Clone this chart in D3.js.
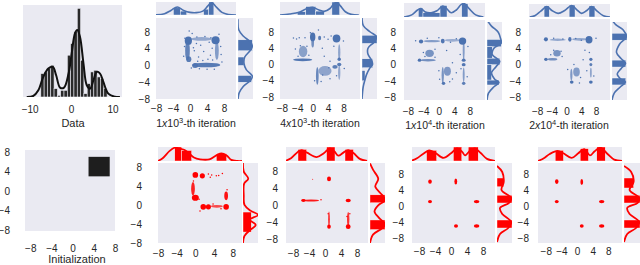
<!DOCTYPE html>
<html>
<head>
<meta charset="utf-8">
<script src="https://cdn.jsdelivr.net/npm/d3@7"></script>
<style>
  body { margin: 0; background: #fff; }
  svg { display: block; font-family: 'Liberation Sans', Arial, sans-serif; }
</style>
</head>
<body>
<svg id="chart" width="640" height="265"></svg>
<script>
const BLUE = '#4c72b0', RED = '#ff0000', BG = '#eaeaf2', INK = '#262626';

// ---- 1-D target data: histogram + kde ----
const histEdges = [-7.3,-6.5,-5.7,-4.9,-4.1,-3.3,-2.5,-1.7,-0.9,-0.1,0.7,1.5,2.3,3.1,3.9,4.7,5.5,6.3,7.1,7.9,8.7];
const histCounts = [14,15,17,19,5,1,4,4,25,32,39,53,22,2,8,15,16,12,11,5];
const histKde = [[-10.7,0],[-9.1,0.6],[-7.9,4],[-6.7,12],[-5.5,17],[-4.4,18],[-3.6,13],[-2.65,5.6],[-1.7,5.6],
  [-0.6,14],[0.15,26],[0.95,38],[1.5,40],[2.15,36],[3,20],[3.8,7],[4.6,5],[5.4,10],[6.2,15],[7,14],[7.8,9],
  [9,2],[10.6,0.2],[11.8,0]];
const histTicks = [-10, 0, 10];
const scatterTicks = [-8, -4, 0, 4, 8];

// iteration labels: mantissa x 10^exponent
const iterMantissa = ['1', '4', '1', '2'];
const iterExponent = ['3', '3', '4', '4'];

// start points fill a box [x0, x1, y0, y1]
const initBox = [3, 7, 3, 7];

// point clouds: [cx, cy, spreadX, spreadY, density]
const blue1Clusters = [[-0.4,5.9,0.85,1.0,1],[-0.6,3.5,0.55,2.4,0.8],[-0.3,1.5,0.6,0.7,0.85],[6.0,6.0,0.95,0.95,1],
  [6.3,3.5,0.45,2.2,0.5],[3.8,0.1,3.3,0.55,0.9],[1.2,0.0,0.7,0.6,0.9],[2.7,6.3,2.5,0.45,0.35]];
const blue1Strays = [[1.5,5.2],[2.5,4.8],[3.5,6.9],[4.5,5.5],[1,3.5],[2,2],[3.2,3.3],[4.8,2.4],[5.3,1.3],[0.5,7.6],
  [-1.3,4.5],[-1.5,2.2],[7.2,4.5],[7.5,0.8],[4,-0.9],[2.2,-0.8],[0.8,4.2],[5.2,4.1],[-0.2,8.2],[6.8,7.4],[3,1.2],[1.8,1],[4.2,1.5],
  [1.6,6.8],[4.9,6.6],[-1.2,6.5],[7.3,2.6],[5.7,-0.9],[0.3,-0.6]];

const blue2Clusters = [[0.0,6.8,0.7,1.1,1],[0.0,5.5,0.35,1.3,0.65],[1.8,6.5,0.4,0.55,0.85],[6.2,6.4,1.0,1.0,1],
  [-2.6,1.15,2.5,0.35,0.95],[-2.5,3.2,1.1,1.4,0.45],[6.9,1.3,0.45,0.45,0.9],[6.9,0.0,0.55,0.45,0.9],[6.9,3.0,0.3,2.0,0.4],
  [6.9,-2.0,0.3,1.8,0.35],[1.2,-2.8,0.35,2.2,0.75],[3.2,-1.6,1.7,1.2,0.4],[5.8,-0.6,0.7,0.45,0.85]];
const blue2Strays = [[-5,6.5],[-4.2,6.3],[-3.5,6.6],[-2,6.6],[3,6.8],[4,6.2],[4.8,7.0],[5.5,4.5],[2.5,4],[-1.5,4.5],
  [-3.8,2],[-1,2.3],[3,2],[4.5,0.8],[8,5.8],[0.5,-4],[2.2,-4.2],[4.5,-3.5],[6.2,-2.8],[8.2,-1],[-0.6,7.8],[1.5,8.5],
  [-4.5,3.8],[-3.2,4.6],[2.6,-2.6],[4.2,-0.8]];

const blue3Clusters = [[-4.6,5.7,0.55,0.5,1],[1.0,5.8,0.5,0.6,0.95],[6.1,5.8,0.95,0.9,1],[-1.8,5.8,2.2,0.3,0.5],
  [3.5,6.0,2.0,0.35,0.3],[-2.4,2.8,1.1,0.9,0.6],[-5.0,1.1,0.45,0.4,1],[-2.8,1.1,2.0,0.3,0.65],[6.4,3.5,0.25,2.5,0.5],
  [6.4,1.1,0.5,0.4,0.95],[6.4,0.0,0.5,0.4,0.95],[6.4,-2.5,0.25,1.8,0.5],[6.4,-4.6,0.45,0.4,0.85],[1.0,-2.6,0.3,2.0,0.6],
  [2.2,-1.6,0.9,1.1,0.55],[1.2,-4.6,0.45,0.4,0.95]];
const blue3Strays = [[-3,6.5],[0,6.6],[3,5.5],[4.5,6.4],[2,3.5],[-1,3.8],[-4,3],[-3.6,2],[-1,1.8],[3.5,0.5],
  [4.5,-2],[3.5,-3.5],[0,-1.5],[7.5,4.5],[5.5,2.5],[5.7,-1],[-6,5.9],[2.8,-4.2],[0.2,-3.6],[7.3,-3]];

const blue4Clusters = [[-5.6,6.2,0.55,0.5,1],[0.9,6.2,0.45,0.6,0.95],[6.1,6.1,0.95,0.9,1],[-2.4,6.1,2.2,0.3,0.35],
  [3.5,6.2,2.0,0.35,0.35],[-2.6,2.8,1.0,0.8,0.6],[-5.6,1.3,0.5,0.4,1],[-3.8,1.3,1.3,0.3,0.65],[6.6,1.3,0.45,0.4,0.95],
  [6.6,0.0,0.4,0.4,0.85],[6.6,-2,0.25,1.2,0.4],[1.4,-4.3,0.5,0.4,1],[6.6,-4.3,0.5,0.4,1],[1.3,-2.5,0.3,1.5,0.55],
  [2.7,-1.8,0.9,1.1,0.5]];
const blue4Strays = [[-3.5,6.5],[-1,6.3],[2.5,6.4],[4,6],[-1.5,3.3],[-3.5,3.5],[-1.2,2],[5,3.5],[6.2,3],[4.5,1.2],
  [3.8,-3.2],[2,0],[5.5,-1.5],[3.5,-4.5],[8,6.5],[-4.3,2.4],[0.3,-1.2],[7.4,-2.8]];

const red1Clusters = [[0.0,6.3,0.6,0.6,1],[1.5,6.1,0.55,0.55,1],[-0.5,3.4,0.4,1.4,0.8],[0.0,1.5,0.75,0.65,1],
  [6.6,1.9,0.4,0.9,0.9],[1.7,-0.4,0.6,0.6,1],[2.8,-0.4,0.55,0.55,1],[4.6,-0.3,1.3,0.3,0.55],[6.6,-0.4,0.6,0.6,1]];
const red1Strays = [[3.5,6.3],[4.5,6.1],[5,6.2],[2.8,6.5],[-0.4,5],[0.8,1.2],[5.5,-0.8],[3.8,0.2],[6.8,3.2],[1,-1.3],[3.2,5.8],[5.8,6.6]];

const red2Clusters = [[-3.1,6.2,0.15,0.15,0.5],[1.0,6.3,0.5,0.55,1],[-3.5,1.15,2.0,0.25,0.85],[-5.4,1.15,0.55,0.35,1],
  [5.8,1.15,0.65,0.4,1],[1.0,-3.3,0.2,1.8,0.85],[1.0,-5.1,0.45,0.5,1],[5.8,-3.3,0.3,1.7,0.7],[5.8,-5.1,0.6,0.55,1]];
const red2Strays = [[6.2,-2],[5.5,-2.7],[0.8,-2],[-1,1.3]];

const red3Clusters = [[-5.25,6.1,0.45,0.55,1],[1.2,6.1,0.35,0.75,1],[-5.25,1.1,0.5,0.4,1],[6.4,1.1,0.7,0.4,1],
  [1.25,-5,0.5,0.45,1],[6.4,-5,0.7,0.45,1]];
const red4Clusters = [[-5.2,6.1,0.45,0.6,1],[1.2,6.0,0.35,0.75,1],[-5.2,1.1,0.5,0.4,1],[6.3,1.1,0.7,0.4,1],
  [1.2,-5,0.5,0.45,1],[6.3,-5,0.7,0.45,1]];

// marginal kde curves [position, relative height] and bars [from, to, relative height]
const blue1Top = [[-8,0.02],[-6,0.1],[-4.5,0.35],[-3,0.62],[-1.5,0.35],[0,0.2],[1.5,0.18],[3,0.3],[4.2,0.7],[5.1,0.95],[6.2,0.6],[7.5,0.2],[9,0.04],[10.8,0]];
const blue1TopBars = [[-3.9,-2.3,0.55],[-2.3,-0.8,0.3],[3.2,4.4,0.45],[4.4,5.6,1.0]];
const blue1Right = [[11,0],[8.5,0.05],[7,0.35],[5.5,0.85],[4.5,0.95],[3.5,0.8],[2,0.45],[0.5,0.4],[-1,0.55],[-2.5,0.95],[-3.5,0.85],[-5,0.35],[-6.5,0.08],[-8,0]];
const blue1RightBars = [[3.5,6.1,0.95],[-4,-2.4,0.9],[0,2,0.4]];

const blue2Top = [[-8.5,0],[-6,0.08],[-3.5,0.22],[-1.5,0.5],[0,0.6],[1.5,0.4],[3,0.28],[4.5,0.5],[5.5,0.85],[6.3,0.98],[7.2,0.7],[8.5,0.25],[10,0.05],[12,0]];
const blue2TopBars = [[-4,-1.8,0.25],[-1.8,0.8,0.65],[0.8,3,0.3],[5.0,7.0,1.0]];
const blue2Right = [[11.5,0],[9.5,0.1],[8,0.55],[6.8,0.98],[5.5,0.8],[4,0.4],[2.5,0.4],[1,0.65],[0,0.7],[-1,0.5],[-2.5,0.3],[-4,0.18],[-5.5,0.08],[-8.5,0]];
const blue2RightBars = [[5.2,7.2,1.0],[-0.8,1.4,0.7],[-4,-1.5,0.2]];

const blue3Top = [[-9,0],[-7,0.15],[-5.5,0.5],[-4.6,0.6],[-3.5,0.35],[-2,0.3],[-0.5,0.45],[1,0.78],[2,0.6],[3.2,0.3],[4.5,0.5],[5.8,0.9],[6.6,0.95],[7.8,0.6],[9.5,0.15],[11.5,0]];
const blue3TopBars = [[-5.3,-4.1,0.62],[-4.1,0.3,0.3],[0.3,2.1,0.82],[5.9,7.5,0.95]];
const blue3Right = [[11,0],[9.5,0.3],[8,0.75],[6.5,0.9],[5.3,0.95],[4,0.45],[2.5,0.35],[0.8,0.85],[-0.5,0.6],[-2,0.3],[-3.5,0.5],[-4.4,0.8],[-5.5,0.45],[-7,0.1],[-8.7,0]];
const blue3RightBars = [[4.4,6.2,0.95],[1.6,4.4,0.35],[0,1.6,0.85],[-3.8,0,0.3],[-5,-3.8,0.8]];

const blue4Top = [[-10,0],[-8.5,0.12],[-7,0.45],[-5.4,0.8],[-4,0.5],[-2.3,0.28],[-0.5,0.5],[1.4,0.88],[2.8,0.55],[4.1,0.28],[5.5,0.5],[6.8,0.8],[8.3,0.45],[10,0.1],[12,0]];
const blue4TopBars = [[-6.1,-4.7,0.85],[0.7,2.3,0.92],[6.1,7.7,0.85]];
const blue4Right = [[11,0],[9.8,0.25],[8.5,0.75],[6.8,0.95],[5,0.5],[3,0.3],[1.5,0.6],[0.3,0.9],[-1,0.6],[-2.3,0.35],[-3.6,0.6],[-4.3,0.9],[-5.5,0.55],[-7,0.15],[-8.7,0]];
const blue4RightBars = [[6,7.7,1.0],[-0.6,1.1,0.92],[-5,-3.3,0.92]];

const red1Top = [[-8,0],[-7,0.2],[-5.5,0.72],[-4.4,0.95],[-3.5,0.9],[-2.4,0.8],[-1.5,0.6],[-0.3,0.25],[1,0.12],[3,0.12],[4.5,0.4],[5.6,0.55],[6.7,0.4],[7.7,0.08],[9,0],[10,0]];
const red1TopBars = [[-4.4,-2.9,1.0],[-2.9,-0.8,0.75],[4.5,6.7,0.52]];
const red1Right = [[8.8,0],[7,0.05],[5.5,0.35],[4.5,0.08],[2,0.05],[0,0.1],[-1.2,0.5],[-2.1,1.0],[-3.1,0.45],[-4.2,0.85],[-5.2,0.5],[-6.5,0.1],[-8,0]];
const red1RightBars = [[-5.7,-1.5,0.55]];

const red2Top = [[-10,0],[-8.5,0.2],[-6.8,0.65],[-5.8,0.78],[-4.5,0.6],[-2.1,0.28],[-0.3,0.55],[1.2,0.9],[2.3,0.7],[3.3,0.38],[4.6,0.6],[5.8,0.78],[7.2,0.55],[8.7,0.15],[10.5,0]];
const red2TopBars = [[-6.75,-4.6,0.83],[0.4,2.5,1.0],[5,7.1,0.83]];
const red2Right = [[10,0],[8.5,0.2],[6.3,0.55],[4.5,0.35],[2.5,0.8],[1.2,1.0],[0,0.55],[-1.5,0.3],[-3,0.6],[-4.5,1.0],[-5.5,0.8],[-7,0.2],[-9,0]];
const red2RightBars = [[0.6,2.5,1.0],[-5.8,-3.5,1.0]];

const red3Top = [[-10,0],[-8.5,0.2],[-7,0.5],[-5.5,0.75],[-4,0.6],[-1.9,0.22],[0,0.55],[1.5,0.9],[2.8,0.65],[3.5,0.4],[4.8,0.75],[6,0.9],[7.5,0.55],[9,0.15],[11,0]];
const red3TopBars = [[-6.1,-3.6,0.76],[0.6,2.7,1.0],[4.3,6.8,1.0]];
const red3Right = [[10,0],[8.5,0.35],[6,0.45],[4,0.3],[2,0.95],[0.8,0.8],[-0.5,0.2],[-2,0.35],[-4,0.95],[-5.5,0.75],[-7,0.2],[-9,0]];
const red3RightBars = [[4.8,7,0.45],[0.75,2.7,1.0],[-5.5,-3.5,1.0]];

const red4Top = [[-10,0],[-8.5,0.2],[-7,0.5],[-5,0.72],[-3.5,0.55],[-1.4,0.22],[0.3,0.55],[1.8,0.85],[3.3,0.4],[4.5,0.7],[6,0.95],[7.8,0.5],[9.5,0.1],[11.5,0]];
const red4TopBars = [[-5.6,-3.5,0.76],[0.8,2.9,0.88],[5.05,7.2,1.0]];
const red4Right = [[10,0],[8.5,0.45],[6,0.6],[4,0.35],[2,0.95],[0.8,0.85],[-0.5,0.2],[-2,0.35],[-4,0.95],[-5.5,0.75],[-7,0.2],[-9,0]];
const red4RightBars = [[4.5,7,0.6],[0.75,2.7,1.0],[-5.5,-3.5,1.0]];

// panel layout (pixel boxes are [x0, x1, y0, y1])
const panels = [
  { color: BLUE, box: [156,236,18,99], xd: [-8,10.8], yd: [-8,11.3], top: [156,236,2,15], right: [238,253,18,99],
    xLabY: 108, yLabEdge: 150, title: [0,196,123], clusters: blue1Clusters, strays: blue1Strays,
    mTop: blue1Top, mTopBars: blue1TopBars, mRight: blue1Right, mRightBars: blue1RightBars },
  { color: BLUE, box: [280,360,18,99], xd: [-8.5,12.3], yd: [-8.5,11.45], top: [280,360,2,15], right: [362,377,18,99],
    xLabY: 108, yLabEdge: 274, title: [1,320,123], clusters: blue2Clusters, strays: blue2Strays,
    mTop: blue2Top, mTopBars: blue2TopBars, mRight: blue2Right, mRightBars: blue2RightBars },
  { color: BLUE, box: [404,485,20,100], xd: [-9,11.9], yd: [-8.7,11], top: [404,485,3,17], right: [487,502,22,100],
    xLabY: 111, yLabEdge: 396, title: [2,445,125], clusters: blue3Clusters, strays: blue3Strays,
    mTop: blue3Top, mTopBars: blue3TopBars, mRight: blue3Right, mRightBars: blue3RightBars },
  { color: BLUE, box: [529,610,19,100], xd: [-10.2,11.8], yd: [-8.7,11.2], top: [529,610,4,17], right: [612,627,22,100],
    xLabY: 111, yLabEdge: 521, title: [3,569,125], clusters: blue4Clusters, strays: blue4Strays,
    mTop: blue4Top, mTopBars: blue4TopBars, mRight: blue4Right, mRightBars: blue4RightBars },
  { color: RED, box: [158,242,163,243], xd: [-8,10], yd: [-8,8.8], top: [158,242,147,161], right: [243,258,163,243],
    xLabY: 253, yLabEdge: 142, clusters: red1Clusters, strays: red1Strays,
    mTop: red1Top, mTopBars: red1TopBars, mRight: red1Right, mRightBars: red1RightBars },
  { color: RED, box: [286,368,163,243], xd: [-9.75,10.75], yd: [-9,10.1], top: [286,368,147,161], right: [370,385,163,243],
    xLabY: 253, yLabEdge: 278, clusters: red2Clusters, strays: red2Strays,
    mTop: red2Top, mTopBars: red2TopBars, mRight: red2Right, mRightBars: red2RightBars },
  { color: RED, box: [412,495,163,243], xd: [-9.75,11], yd: [-9.25,10.75], top: [412,495,147,161], right: [497,512,163,243],
    xLabY: 251, yLabEdge: 404, clusters: red3Clusters, strays: [],
    mTop: red3Top, mTopBars: red3TopBars, mRight: red3Right, mRightBars: red3RightBars },
  { color: RED, box: [538,622,163,243], xd: [-10,11.5], yd: [-9.25,10.75], top: [538,622,147,161], right: [624,640,163,243],
    xLabY: 251, yLabEdge: 529, clusters: red4Clusters, strays: [],
    mTop: red4Top, mTopBars: red4TopBars, mRight: red4Right, mRightBars: red4RightBars }
];

const svg = d3.select('#chart');
const defs = svg.append('defs');
defs.append('filter').attr('id', 'soft')
  .append('feGaussianBlur').attr('stdDeviation', 0.5);

let clipId = 0;
function clipTo(b) {
  const id = 'clip' + (clipId++);
  defs.append('clipPath').attr('id', id)
    .append('rect').attr('x', b[0]).attr('y', b[2]).attr('width', b[1] - b[0]).attr('height', b[3] - b[2]);
  return `url(#${id})`;
}

function background(b) {
  svg.append('rect').attr('x', b[0]).attr('y', b[2])
    .attr('width', b[1] - b[0]).attr('height', b[3] - b[2]).attr('fill', BG);
}

function styleAxis(g) {
  g.select('.domain').remove();
  g.selectAll('text').style('font-size', '10px').attr('fill', INK);
}

function xAxis(x, bottom, labelY, ticks) {
  svg.append('g').attr('transform', `translate(0,${bottom})`)
    .call(d3.axisBottom(x).tickValues(ticks).tickSize(0).tickPadding(labelY - bottom - 3.5))
    .call(styleAxis);
}

function yAxis(y, left, edge, ticks) {
  svg.append('g').attr('transform', `translate(${left},0)`)
    .call(d3.axisLeft(y).tickValues(ticks).tickSize(0).tickPadding(left - edge))
    .call(styleAxis);
}

function iterTitle(i, cx, cy) {
  const t = svg.append('text').attr('x', cx).attr('y', cy + 4).attr('text-anchor', 'middle')
    .style('font-size', '10.5px').attr('fill', INK);
  t.append('tspan').text(iterMantissa[i]);
  t.append('tspan').attr('font-style', 'italic').text('x');
  t.append('tspan').text('10');
  t.append('tspan').attr('dy', -4).style('font-size', '7.5px').text(iterExponent[i]);
  t.append('tspan').attr('dy', 4).text('-th iteration');
}

// ---- histogram of the target data ----
{
  const b = [23, 122, 5, 97];
  background(b);
  const x = d3.scaleLinear().domain([-11.6, 12.3]).range([b[0], b[1]]);
  const y = d3.scaleLinear().domain([0, 55]).range([b[3], b[2]]);
  const g = svg.append('g').attr('clip-path', clipTo(b));
  g.selectAll('rect.bar').data(histCounts).enter().append('rect')
    .attr('class', 'bar')
    .attr('x', (d, i) => x(histEdges[i]))
    .attr('width', (d, i) => x(histEdges[i + 1]) - x(histEdges[i]))
    .attr('y', d => y(d))
    .attr('height', d => y(0) - y(d))
    .attr('fill', '#2a2a2a')
    .attr('stroke', BG).attr('stroke-width', 0.6);
  g.append('path').datum(histKde)
    .attr('d', d3.line().x(d => x(d[0])).y(d => y(d[1])).curve(d3.curveCatmullRom))
    .attr('fill', 'none').attr('stroke', '#111').attr('stroke-width', 2);
  xAxis(x, b[3], 109, histTicks);
  svg.append('text').attr('x', 73).attr('y', 127).attr('text-anchor', 'middle')
    .style('font-size', '11px').attr('fill', INK).text('Data');
}

// ---- initialization ----
{
  const b = [25, 115, 150, 231];
  background(b);
  const x = d3.scaleLinear().domain([-9, 8]).range([b[0], b[1]]);
  const y = d3.scaleLinear().domain([-8.2, 8.4]).range([b[3], b[2]]);
  svg.append('rect')
    .attr('x', x(initBox[0])).attr('width', x(initBox[1]) - x(initBox[0]))
    .attr('y', y(initBox[3])).attr('height', y(initBox[2]) - y(initBox[3]))
    .attr('fill', '#1e1e1e');
  xAxis(x, b[3], 248, scatterTicks);
  yAxis(y, b[0], 10, scatterTicks);
  svg.append('text').attr('x', 77).attr('y', 263).attr('text-anchor', 'middle')
    .style('font-size', '11px').attr('fill', INK).text('Initialization');
}

// ---- joint plots ----
panels.forEach(p => {
  const b = p.box;
  const x = d3.scaleLinear().domain(p.xd).range([b[0], b[1]]);
  const y = d3.scaleLinear().domain(p.yd).range([b[3], b[2]]);
  const lw = p.color === RED ? 1.8 : 1.6;

  // main scatter
  background(b);
  const g = svg.append('g').attr('clip-path', clipTo(b));
  g.append('g').attr('filter', 'url(#soft)')
    .selectAll('ellipse').data(p.clusters).enter().append('ellipse')
    .attr('cx', d => x(d[0])).attr('cy', d => y(d[1]))
    .attr('rx', d => Math.abs(x(d[0] + d[2]) - x(d[0])))
    .attr('ry', d => Math.abs(y(d[1] + d[3]) - y(d[1])))
    .attr('fill', p.color).attr('fill-opacity', d => 0.3 + 0.7 * d[4]);
  g.selectAll('circle').data(p.strays).enter().append('circle')
    .attr('cx', d => x(d[0])).attr('cy', d => y(d[1])).attr('r', 0.75)
    .attr('fill', p.color);

  // top marginal
  const t = p.top;
  background(t);
  const ht = d3.scaleLinear().domain([0, 1]).range([t[3], t[2]]);
  const gt = svg.append('g').attr('clip-path', clipTo(t));
  gt.selectAll('rect').data(p.mTopBars).enter().append('rect')
    .attr('x', d => x(d[0])).attr('width', d => x(d[1]) - x(d[0]))
    .attr('y', d => ht(d[2])).attr('height', d => ht(0) - ht(d[2]))
    .attr('fill', p.color).attr('stroke', '#fff').attr('stroke-width', 0.4);
  gt.append('path').datum(p.mTop)
    .attr('d', d3.line().x(d => x(d[0])).y(d => ht(d[1])).curve(d3.curveCatmullRom))
    .attr('fill', 'none').attr('stroke', p.color).attr('stroke-width', lw);

  // right marginal
  const r = p.right;
  background(r);
  const hr = d3.scaleLinear().domain([0, 1]).range([r[0], r[1]]);
  const gr = svg.append('g').attr('clip-path', clipTo(r));
  gr.selectAll('rect').data(p.mRightBars).enter().append('rect')
    .attr('x', hr(0)).attr('width', d => hr(d[2]) - hr(0))
    .attr('y', d => y(d[1])).attr('height', d => y(d[0]) - y(d[1]))
    .attr('fill', p.color).attr('stroke', '#fff').attr('stroke-width', 0.4);
  gr.append('path').datum(p.mRight)
    .attr('d', d3.line().x(d => hr(d[1])).y(d => y(d[0])).curve(d3.curveCatmullRom))
    .attr('fill', 'none').attr('stroke', p.color).attr('stroke-width', lw);

  // axes
  xAxis(x, b[3], p.xLabY, scatterTicks);
  yAxis(y, b[0], p.yLabEdge, scatterTicks);
  if (p.title) iterTitle(p.title[0], p.title[1], p.title[2]);
});
</script>
</body>
</html>
